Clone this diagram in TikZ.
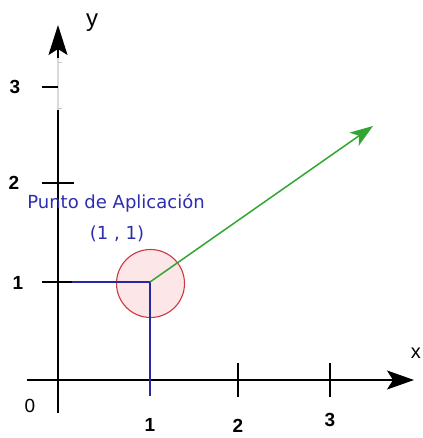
\documentclass[tikz,border=0pt]{standalone}
\usepackage{fontspec}
\setmainfont{Liberation Sans}
\newfontfamily\dvs{DejaVu Sans}
\usetikzlibrary{arrows.meta}
\definecolor{labblue}{RGB}{45,45,175}
\definecolor{lineblue}{RGB}{40,40,160}
\definecolor{arrgreen}{RGB}{50,165,50}
\definecolor{circred}{RGB}{205,55,65}
\definecolor{circfill}{RGB}{252,230,232}
\tikzset{
  axis/.style={black, line width=1.6pt},
  tickl/.style={black, line width=1.4pt},
  ticklab/.style={font=\bfseries\fontsize{19}{20}\selectfont, inner sep=0pt},
  axlab/.style={font=\fontsize{20}{22}\selectfont, inner sep=0pt},
  bigy/.style={-{Stealth[length=30pt,width=19pt,inset=6pt]}},
  bigx/.style={-{Stealth[length=27pt,width=19pt,inset=6pt]}},
}
\begin{document}
\begin{tikzpicture}[x=1pt,y=-1pt]
\useasboundingbox (0,0) rectangle (422,438);
% points
\coordinate (ybot) at (58,413);
\coordinate (ytop) at (58,25);
\coordinate (ygA) at (58,110);
\coordinate (ygB) at (58,58);
\coordinate (xleft) at (27,380);
\coordinate (xtip) at (414,380);
\coordinate (P) at (150,282);
\coordinate (Q) at (373,126);
% circle
\node[circle, draw=circred, fill=circfill, line width=1.1pt, minimum size=68pt, inner sep=0pt] (c) at (150.5,283.5) {};
% axes
\draw[axis] (ybot) -- (ygA);
\draw[gray!30, line width=1.2pt] (ygA) -- (ygB);
\draw[gray!45, line width=0.8pt] (58,62) -- (62,62) (58,108) -- (62,108);
\draw[axis, bigy] (ygB) -- (ytop);
\draw[axis, bigx] (xleft) -- (xtip);
% ticks y
\coordinate (t3a) at (42,87); \coordinate (t3b) at (58,87);
\coordinate (t2a) at (42,183); \coordinate (t2b) at (74,183);
\coordinate (t1a) at (42,282); \coordinate (t1b) at (72,282);
\draw[tickl] (t3a) -- (t3b);
\draw[tickl] (t2a) -- (t2b);
% ticks x
\coordinate (x2a) at (238,363); \coordinate (x2b) at (238,397);
\coordinate (x3a) at (330,363); \coordinate (x3b) at (330,397);
\coordinate (x1b) at (150,396);
\draw[tickl] (x2a) -- (x2b);
\draw[tickl] (x3a) -- (x3b);
% blue projection lines
\draw[tickl] (t1a) -- (t1b);
\draw[lineblue, line width=1.3pt] (t1b) -- (P) -- (x1b);
% green vector
\draw[arrgreen, line width=1.5pt, -{Stealth[length=23pt,width=16pt,inset=6pt]}] (P) -- (Q);
% labels
\node[ticklab] (l3) at (15,87) {3};
\node[ticklab] (l2) at (14,183) {2};
\node[ticklab] (l1) at (18,283) {1};
\node[ticklab] (lx1) at (150,425) {1};
\node[ticklab] (lx2) at (238,426) {2};
\node[ticklab] (lx3) at (330,420) {3};
\node[axlab, font=\fontsize{19}{20}\selectfont] (lo) at (30,406) {0};
\node[axlab, font=\fontsize{24}{26}\selectfont, anchor=base] (ly) at (92,27) {y};
\node[axlab, font=\fontsize{20}{22}\selectfont, anchor=base east] (lx) at (421,358) {x};
\node[labblue, font=\dvs\fontsize{18}{20}\selectfont, inner sep=0pt] (pa) at (116,203) {Punto de Aplicación};
\node[labblue, font=\dvs\fontsize{18}{20}\selectfont, inner sep=0pt] (pc) at (117,234) {(1 , 1)};
\end{tikzpicture}
\end{document}
